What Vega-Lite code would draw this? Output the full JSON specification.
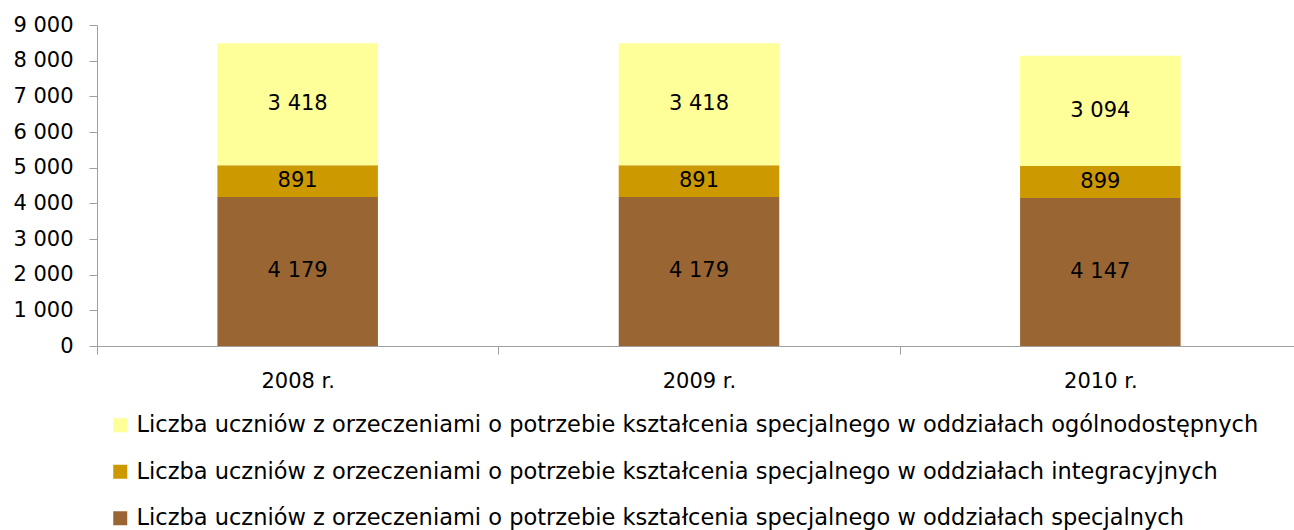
{
  "$schema": "https://vega.github.io/schema/vega-lite/v6.json",
  "width": 1204,
  "height": 321,
  "autosize": {"type": "none"},
  "padding": {"left": 97, "top": 25, "right": 0, "bottom": 184},
  "background": "white",
  "config": {
    "view": {"stroke": null},
    "font": "DejaVu Sans",
    "locale": {"number": {"decimal": ",", "thousands": " ", "grouping": [3], "currency": ["", " zł"]}}
  },
  "data": {
    "values": [
      {"rok": "2008 r.", "kategoria": "Liczba uczniów z orzeczeniami o potrzebie kształcenia specjalnego w oddziałach specjalnych", "liczba": 4179},
      {"rok": "2008 r.", "kategoria": "Liczba uczniów z orzeczeniami o potrzebie kształcenia specjalnego w oddziałach integracyjnych", "liczba": 891},
      {"rok": "2008 r.", "kategoria": "Liczba uczniów z orzeczeniami o potrzebie kształcenia specjalnego w oddziałach ogólnodostępnych", "liczba": 3418},
      {"rok": "2009 r.", "kategoria": "Liczba uczniów z orzeczeniami o potrzebie kształcenia specjalnego w oddziałach specjalnych", "liczba": 4179},
      {"rok": "2009 r.", "kategoria": "Liczba uczniów z orzeczeniami o potrzebie kształcenia specjalnego w oddziałach integracyjnych", "liczba": 891},
      {"rok": "2009 r.", "kategoria": "Liczba uczniów z orzeczeniami o potrzebie kształcenia specjalnego w oddziałach ogólnodostępnych", "liczba": 3418},
      {"rok": "2010 r.", "kategoria": "Liczba uczniów z orzeczeniami o potrzebie kształcenia specjalnego w oddziałach specjalnych", "liczba": 4147},
      {"rok": "2010 r.", "kategoria": "Liczba uczniów z orzeczeniami o potrzebie kształcenia specjalnego w oddziałach integracyjnych", "liczba": 899},
      {"rok": "2010 r.", "kategoria": "Liczba uczniów z orzeczeniami o potrzebie kształcenia specjalnego w oddziałach ogólnodostępnych", "liczba": 3094}
    ]
  },
  "transform": [
    {"calculate": "indexof(datum.kategoria, 'specjalnych') > 60 ? 0 : (indexof(datum.kategoria, 'integracyjnych') > 0 ? 1 : 2)", "as": "kolejnosc"},
    {"stack": "liczba", "groupby": ["rok"], "sort": [{"field": "kolejnosc", "order": "ascending"}], "as": ["y0", "y1"]},
    {"calculate": "(datum.y0 + datum.y1) / 2", "as": "srodek"}
  ],
  "encoding": {
    "x": {
      "field": "rok", "type": "nominal", "title": null,
      "scale": {"paddingInner": 0, "paddingOuter": 0},
      "axis": {"labelAngle": 0, "labelFontSize": 21, "labelColor": "#000000", "labelPadding": 16, "tickBand": "extent", "tickSize": 8, "domainColor": "#A0A0A0", "tickColor": "#A0A0A0"}
    }
  },
  "layer": [
    {
      "mark": {"type": "bar", "width": {"band": 0.4}},
      "encoding": {
        "y": {
          "field": "y0", "type": "quantitative", "title": null,
          "scale": {"domain": [0, 9000], "nice": false},
          "axis": {"values": [0, 1000, 2000, 3000, 4000, 5000, 6000, 7000, 8000, 9000], "format": ",.0f", "labelOverlap": false, "grid": false, "labelFontSize": 21, "labelColor": "#000000", "labelPadding": 16, "tickSize": 8, "domainColor": "#A0A0A0", "tickColor": "#A0A0A0"}
        },
        "y2": {"field": "y1"},
        "color": {
          "field": "kategoria", "type": "nominal",
          "scale": {
            "domain": [
              "Liczba uczniów z orzeczeniami o potrzebie kształcenia specjalnego w oddziałach ogólnodostępnych",
              "Liczba uczniów z orzeczeniami o potrzebie kształcenia specjalnego w oddziałach integracyjnych",
              "Liczba uczniów z orzeczeniami o potrzebie kształcenia specjalnego w oddziałach specjalnych"
            ],
            "range": ["#FFFF99", "#CC9900", "#996633"]
          },
          "legend": {
            "title": null, "orient": "none", "legendX": 12, "legendY": 389, "direction": "vertical",
            "symbolType": "square", "symbolSize": 196, "symbolStrokeWidth": 0, "labelFontSize": 22.5, "labelColor": "#000000",
            "labelLimit": 1300, "rowPadding": 23.5, "labelOffset": 5
          }
        }
      }
    },
    {
      "mark": {"type": "text", "fontSize": 21, "color": "#000000", "baseline": "middle"},
      "encoding": {
        "y": {
          "field": "srodek", "type": "quantitative",
          "axis": {"values": [0, 1000, 2000, 3000, 4000, 5000, 6000, 7000, 8000, 9000], "format": ",.0f", "labelOverlap": false, "grid": false, "labelFontSize": 21, "labelColor": "#000000", "labelPadding": 16, "tickSize": 8, "domainColor": "#A0A0A0", "tickColor": "#A0A0A0"}
        },
        "text": {"field": "liczba", "type": "quantitative", "format": ",.0f"}
      }
    }
  ]
}
